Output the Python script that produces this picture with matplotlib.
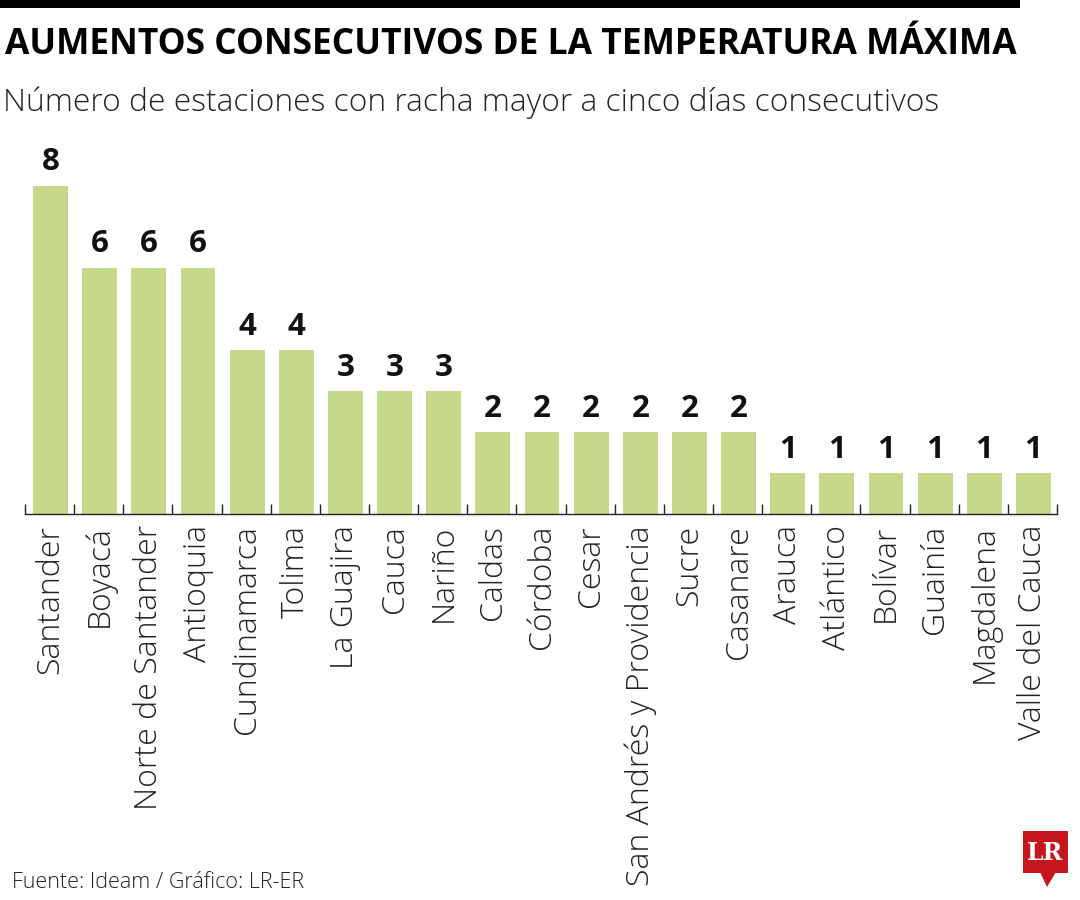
import matplotlib.pyplot as plt
import matplotlib.patches as mpatches
import numpy as np

departamentos = ["Santander", "Boyacá", "Norte de Santander", "Antioquia", "Cundinamarca",
                 "Tolima", "La Guajira", "Cauca", "Nariño", "Caldas", "Córdoba", "Cesar",
                 "San Andrés y Providencia", "Sucre", "Casanare", "Arauca", "Atlántico",
                 "Bolívar", "Guainía", "Magdalena", "Valle del Cauca"]
estaciones = [8, 6, 6, 6, 4, 4, 3, 3, 3, 2, 2, 2, 2, 2, 2, 1, 1, 1, 1, 1, 1]

bar_color = "#c6d98b"
font = "Open Sans"

fig = plt.figure(figsize=(10.8, 9), dpi=100)
ax = fig.add_axes([25 / 1080, (900 - 514) / 900, 1032 / 1080, 349 / 900])

x = np.arange(len(departamentos))
ax.bar(x + 0.02, estaciones, width=0.71, color=bar_color, zorder=2)
for xi, v in zip(x, estaciones):
    ax.text(xi + 0.02, v + 0.2, str(v), ha="center", va="bottom", fontsize=22.5,
            fontweight="bold", family=font, color="#111111", clip_on=False)

ax.set_xlim(-0.5, len(departamentos) - 0.5)
ax.set_ylim(0, 8.5)
ax.set_xticks(x + 0.02)
ax.set_xticklabels(departamentos, rotation=90, fontsize=23, family=font,
                   fontweight="light", color="#222222")
ax.tick_params(axis="x", which="major", length=0, pad=8)
ax.set_xticks(np.arange(-0.5, len(departamentos)), minor=True)
ax.tick_params(axis="x", which="minor", direction="in", length=7, width=1, color="#222222")
ax.set_yticks([])
for s in ["top", "right", "left"]:
    ax.spines[s].set_visible(False)
ax.spines["bottom"].set_color("#222222")
ax.spines["bottom"].set_linewidth(1)

# top black rule
fig.add_artist(mpatches.Rectangle((0, 1 - 8 / 900), 1020 / 1080, 8 / 900,
                                  transform=fig.transFigure, color="black", lw=0))

fig.text(5 / 1080, 1 - 45 / 900, "AUMENTOS CONSECUTIVOS DE LA TEMPERATURA MÁXIMA",
         fontsize=25.5, fontweight="bold", family=font, va="center", ha="left")
fig.text(3 / 1080, 1 - 103 / 900, "Número de estaciones con racha mayor a cinco días consecutivos",
         fontsize=22.9, fontweight="light", family=font, va="center", ha="left", color="#222222")
fig.text(12 / 1080, 1 - 882 / 900, "Fuente: Ideam / Gráfico: LR-ER",
         fontsize=15.5, fontweight="light", family=font, va="center", ha="left", color="#222222")

# LR logo
red = "#c4161c"
fig.add_artist(mpatches.Rectangle((1023 / 1080, 1 - 873 / 900), 45 / 1080, 42 / 900,
                                  transform=fig.transFigure, color=red, lw=0))
fig.add_artist(mpatches.Polygon([(1040 / 1080, 1 - 872 / 900), (1056 / 1080, 1 - 872 / 900),
                                 (1047 / 1080, 1 - 887 / 900)],
                                transform=fig.transFigure, color=red, lw=0))
fig.text(1045.5 / 1080, 1 - 853 / 900, "LR", fontsize=17, fontweight="bold",
         family="DejaVu Serif", color="white", ha="center", va="center")

fig.savefig("out.png", dpi=100)
